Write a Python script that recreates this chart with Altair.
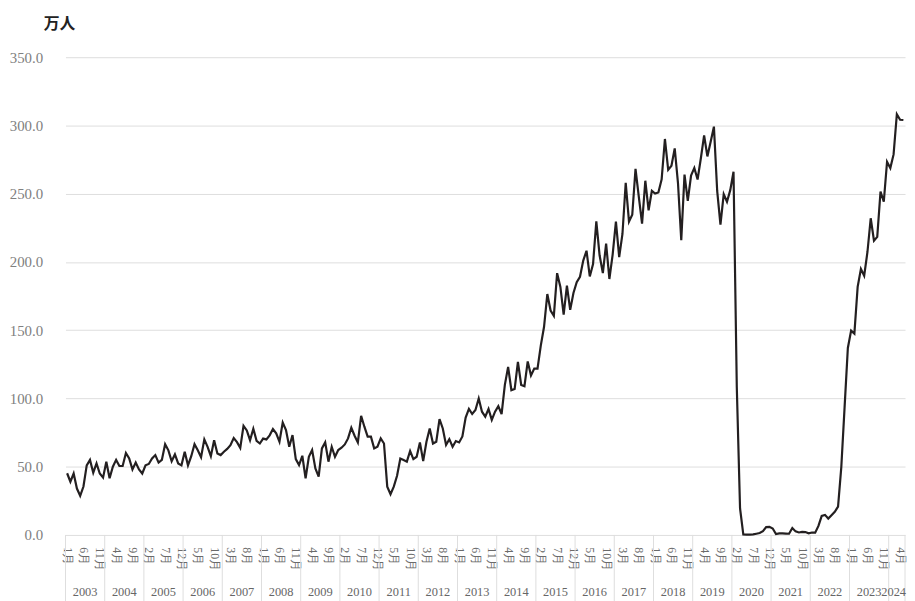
import altair as alt
import pandas as pd

# 訪日外客数（万人）, monthly values
y2003 = [45.2, 39.0, 45.0, 34.0, 28.7, 35.5, 51.0, 55.0, 45.6, 52.4, 45.0, 42.0]
y2004 = [53.6, 41.5, 50.0, 55.0, 50.5, 50.5, 60.0, 56.0, 48.0, 53.0, 48.0, 45.0]
y2005 = [51.0, 52.0, 56.0, 58.5, 53.0, 55.0, 66.5, 62.0, 54.0, 59.0, 52.4, 51.0]
y2006 = [61.0, 51.0, 57.7, 66.5, 62.0, 57.0, 70.0, 64.5, 57.7, 69.4, 59.7, 58.5]
y2007 = [61.0, 63.0, 65.7, 71.0, 68.0, 63.8, 80.0, 76.6, 69.4, 77.8, 69.0, 67.0]
y2008 = [70.6, 70.0, 73.0, 77.6, 74.4, 68.3, 82.4, 76.8, 64.6, 73.2, 55.6, 51.2]
y2009 = [58.0, 41.5, 57.3, 62.2, 48.8, 42.7, 63.4, 67.8, 53.7, 64.6, 57.3, 62.2]
y2010 = [63.9, 66.3, 70.7, 78.5, 72.7, 67.8, 87.3, 79.3, 72.0, 72.0, 63.4, 64.6]
y2011 = [70.7, 67.0, 35.4, 29.8, 35.4, 43.4, 56.0, 54.9, 53.7, 61.5, 55.6, 57.3]
y2012 = [67.8, 54.1, 68.3, 78.0, 67.0, 68.3, 84.9, 78.0, 65.9, 70.2, 64.6, 68.8]
y2013 = [67.8, 72.2, 86.0, 92.3, 88.6, 91.5, 100.0, 90.3, 86.7, 92.3, 84.3, 90.3]
y2014 = [94.4, 88.6, 110.0, 123.1, 106.0, 106.9, 126.8, 109.9, 109.0, 127.1, 116.8, 121.9]
y2015 = [121.8, 138.7, 152.5, 176.5, 164.4, 160.5, 191.8, 181.7, 161.4, 182.6, 164.9, 177.3]
y2016 = [185.2, 189.1, 201.0, 208.2, 189.4, 198.5, 229.7, 204.9, 191.8, 213.4, 187.5, 205.4]
y2017 = [229.6, 203.6, 220.5, 257.9, 229.5, 234.6, 268.2, 247.8, 228.0, 259.5, 237.8, 252.1]
y2018 = [250.1, 250.9, 260.5, 290.1, 267.5, 270.5, 283.2, 257.8, 215.9, 264.0, 244.7, 263.3]
y2019 = [268.9, 260.4, 276.0, 292.7, 277.3, 288.0, 299.1, 252.0, 227.3, 249.6, 244.1, 252.6]
y2020 = [266.1, 108.5, 19.4, 0.3, 0.2, 0.3, 0.4, 0.9, 1.4, 2.7, 5.7, 5.9]
y2021 = [4.7, 0.7, 1.2, 1.1, 1.0, 0.9, 5.1, 2.6, 1.8, 2.2, 2.1, 1.2]
y2022 = [1.8, 1.7, 6.6, 14.0, 14.7, 12.0, 14.5, 17.0, 20.7, 49.9, 93.5, 137.0]
y2023 = [149.7, 147.5, 181.7, 194.9, 189.9, 207.3, 232.0, 215.6, 218.4, 251.6, 244.1, 273.4]
y2024 = [268.8, 278.8, 308.2, 304.2, 304.0]

years = list(range(2003, 2025))
series = [y2003, y2004, y2005, y2006, y2007, y2008, y2009, y2010, y2011, y2012,
          y2013, y2014, y2015, y2016, y2017, y2018, y2019, y2020, y2021, y2022,
          y2023, y2024]
y_ticks = [0, 50, 100, 150, 200, 250, 300, 350]
unit_label = "万人"

rows = []
idx = 0
for yr, vals in zip(years, series):
    for m, v in enumerate(vals):
        rows.append({"i": idx, "year": yr, "month": m + 1, "v": v})
        idx += 1
df = pd.DataFrame(rows)
n = len(df)

tick_idx = list(range(0, n - 1, 5))

year_rows = []
sep_rows = []
start = 0
for yr, vals in zip(years, series):
    s = start - 0.5
    e = start + len(vals) - 0.5
    year_rows.append({"label": str(yr), "mid": (s + e) / 2, "end": e})
    sep_rows.append({"pos": s})
    start += len(vals)
sep_rows.append({"pos": n - 0.5})
year_df = pd.DataFrame(year_rows)
full_years = year_df.iloc[:-1]
last_year = year_df.iloc[-1:]
sep_df = pd.DataFrame(sep_rows)

W, H = 847, 482
xscale = alt.Scale(domain=[-0.5, n - 0.5], nice=False, zero=False)
serif = "Liberation Serif"

x_axis = alt.Axis(values=tick_idx,
                  labelExpr="(datum.value % 12 + 1) + '月'",
                  labelAngle=90, labelFont=serif, labelFontSize=12,
                  labelColor="#6a6a6a", ticks=False, domain=False,
                  grid=False, labelPadding=12, labelOverlap=False,
                  labelFlush=False, title=None)

line = alt.Chart(df).mark_line(color="#231f20", strokeWidth=2.2).encode(
    x=alt.X("i:Q", scale=xscale, axis=x_axis),
    y=alt.Y("v:Q", scale=alt.Scale(domain=[0, 350], nice=False),
            axis=alt.Axis(values=y_ticks, format=".1f", labelFont=serif,
                          labelFontSize=15, labelColor="#808080", ticks=False,
                          domain=False, gridColor="#dedede", gridWidth=1,
                          labelPadding=23, title=None)),
)

seps = alt.Chart(sep_df).mark_rule(color="#dedede", strokeWidth=1).encode(
    x=alt.X("pos:Q", scale=xscale, axis=x_axis),
    y=alt.value(H),
    y2=alt.value(H + 70),
)

year_text = alt.Chart(full_years).mark_text(
    font=serif, fontSize=12.5, color="#666666", baseline="middle", align="center"
).encode(
    x=alt.X("mid:Q", scale=xscale, axis=x_axis),
    y=alt.value(H + 58),
    text="label:N",
)

last_text = alt.Chart(last_year).mark_text(
    font=serif, fontSize=12.5, color="#666666", baseline="middle", align="right",
    dx=1
).encode(
    x=alt.X("end:Q", scale=xscale, axis=x_axis),
    y=alt.value(H + 58),
    text="label:N",
)

title = alt.Chart(pd.DataFrame({"t": [unit_label]})).mark_text(
    align="left", baseline="middle", fontSize=16, fontWeight="bold",
    font="Noto Sans CJK JP", color="#222222"
).encode(
    x=alt.value(-22),
    y=alt.value(-33),
    text="t:N",
)

chart = alt.layer(line, seps, year_text, last_text, title).properties(
    width=W, height=H,
    autosize=alt.AutoSizeParams(type="none"),
    padding={"left": 58, "top": 47, "right": 2, "bottom": 64},
).configure_view(stroke=None)

chart.save("out.html", embed_options={"renderer": "svg", "actions": False})
